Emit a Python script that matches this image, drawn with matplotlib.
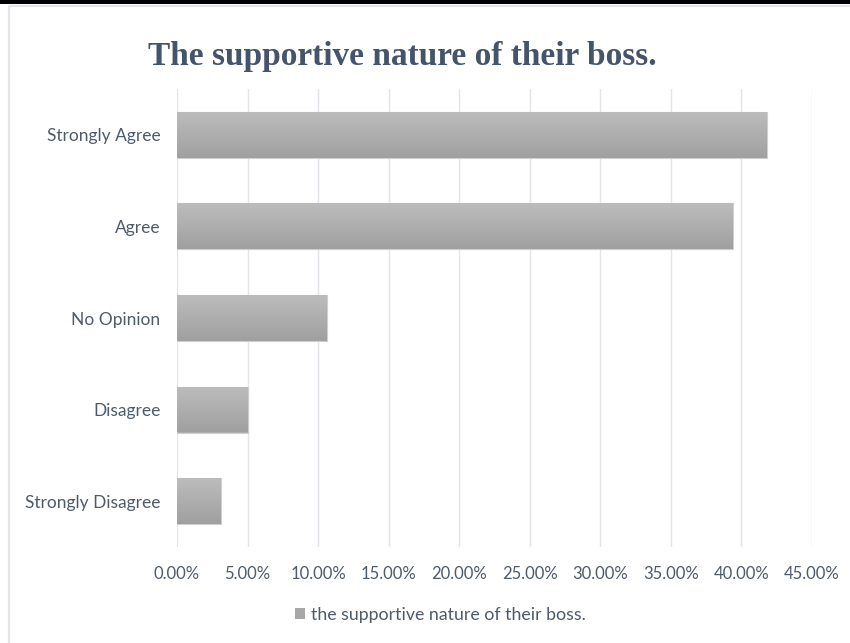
import numpy as np
import matplotlib.pyplot as plt
from matplotlib.patches import Rectangle
from matplotlib.colors import LinearSegmentedColormap
from matplotlib.ticker import FuncFormatter

# survey answers, bottom to top as drawn
categories = ["Strongly Disagree", "Disagree", "No Opinion", "Agree", "Strongly Agree"]
shares = [0.031, 0.050, 0.106, 0.394, 0.418]
series_name = "the supportive nature of their boss."
title = "The supportive nature of their boss."
x_ticks = [0.0, 0.05, 0.10, 0.15, 0.20, 0.25, 0.30, 0.35, 0.40, 0.45]

text_col = "#4f5b6b"
grid_col = "#e2e5ea"

fig = plt.figure(figsize=(8.5, 6.43), dpi=100)
fig.patch.set_facecolor("white")

# frame around the chart area
fig.add_artist(Rectangle((9 / 850, -0.01), 1.0, 1 - 6 / 643 + 0.01, transform=fig.transFigure,
                         fill=False, edgecolor="#e3e5ea", linewidth=1.6))
fig.add_artist(Rectangle((0, 1 - 3.5 / 643), 1, 3.5 / 643, transform=fig.transFigure,
                         facecolor="black", edgecolor="none"))

ax = fig.add_axes([177 / 850, 1 - 547 / 643, (812 - 177) / 850, (547 - 89) / 643])
y = np.arange(len(categories))
bars = ax.barh(y, shares, height=0.5, color="#acacac", edgecolor="#cfcfcf",
               linewidth=0.8, zorder=2)

# vertical shading inside each bar: lighter on top, darker underneath
shade = LinearSegmentedColormap.from_list("shade", ["#a0a0a0", "#bcbcbc"])
grad = np.linspace(0, 1, 64).reshape(-1, 1)
for b in bars:
    x0, y0 = b.get_x(), b.get_y()
    w, h = b.get_width(), b.get_height()
    im = ax.imshow(grad, extent=(x0, x0 + w, y0, y0 + h), aspect="auto",
                   cmap=shade, origin="lower", zorder=2.5)
    im.set_clip_path(b)

ax.set_xlim(0, 0.45)
ax.set_ylim(-0.5, len(categories) - 0.5)
ax.set_xticks(x_ticks)
ax.xaxis.set_major_formatter(FuncFormatter(lambda v, p: f"{v * 100:.2f}%"))
ax.set_yticks(y)
ax.set_yticklabels(categories)
ax.grid(axis="x", color=grid_col, linewidth=1.0, zorder=0)
ax.set_axisbelow(True)
for s in ax.spines.values():
    s.set_visible(False)
ax.tick_params(length=0, colors=text_col)
ax.tick_params(axis="x", pad=14, labelsize=12)
ax.tick_params(axis="y", pad=12, labelsize=12.5)
for lab in ax.get_xticklabels() + ax.get_yticklabels():
    lab.set_family("Lato")

fig.text(402 / 850, 1 - 65 / 643, title, ha="center", va="baseline", fontsize=24,
         fontweight="bold", family="Liberation Serif", color="#44546a")

leg = fig.legend([Rectangle((0, 0), 1, 1, facecolor="#a8a8a8", edgecolor="none")], [series_name],
                 loc="center", bbox_to_anchor=(440 / 850, 1 - 615 / 643), frameon=False,
                 handlelength=0.6, handleheight=0.6, handletextpad=0.3,
                 prop={"family": "Lato", "size": 12.8})
for t in leg.get_texts():
    t.set_color(text_col)

fig.savefig("out.png", dpi=100)
